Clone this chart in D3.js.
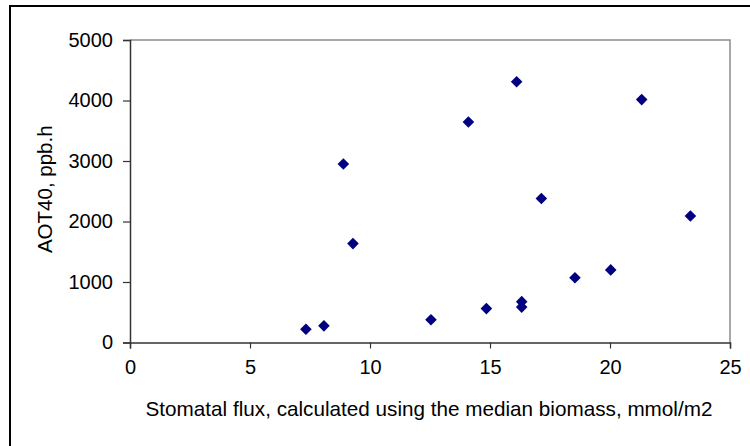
<!DOCTYPE html>
<html>
<head>
<meta charset="utf-8">
<script src="https://cdn.jsdelivr.net/npm/d3@7"></script>
<style>
  body { margin: 0; background: #fff; }
  text { font-family: "Liberation Sans", Arial, sans-serif; }
</style>
</head>
<body>
<div id="chart"></div>
<script>
// stomatal flux (mmol/m2) and AOT40 (ppb.h)
const flux  = [7.33, 8.08, 8.89, 9.29, 12.54, 14.10, 14.85, 16.11, 16.32, 16.32, 17.14, 18.54, 20.03, 21.32, 23.35];
const aot40 = [220, 275, 2950, 1635, 375, 3645, 560, 4310, 675, 585, 2380, 1070, 1200, 4015, 2090];
const xTicks = [0, 5, 10, 15, 20, 25];
const yTicks = [0, 1000, 2000, 3000, 4000, 5000];

const width = 750;
const height = 446;
const margin = { top: 40, right: 20, bottom: 103, left: 130 };
const plotW = 600;
const plotH = 302.5;

const svg = d3.select("#chart")
    .append("svg")
    .attr("width", width)
    .attr("height", height);

// outer frame, runs off the right and bottom edges
svg.append("rect")
    .attr("x", 10)
    .attr("y", 6)
    .attr("width", 760)
    .attr("height", 460)
    .attr("fill", "#fff")
    .attr("stroke", "#000")
    .attr("stroke-width", 2);

const g = svg.append("g")
    .attr("transform", `translate(${margin.left},${margin.top})`);

const x = d3.scaleLinear().domain([0, 25]).range([0, plotW]);
const y = d3.scaleLinear().domain([0, 5000]).range([plotH, 0]);

// grey border on top and right of the plot area
g.append("path")
    .attr("d", `M0,0H${x(25)}V${y(0)}`)
    .attr("fill", "none")
    .attr("stroke", "#8c8c8c")
    .attr("stroke-width", 1.5);

const xAxis = g.append("g")
    .attr("transform", `translate(0,${plotH})`)
    .call(d3.axisBottom(x).tickValues(xTicks).tickFormat(d3.format("d")).tickSize(6).tickPadding(11));

const yAxis = g.append("g")
    .call(d3.axisLeft(y).tickValues(yTicks).tickFormat(d3.format("d")).tickSize(7).tickPadding(10));

[xAxis, yAxis].forEach(a => {
    a.attr("font-size", 20).attr("font-family", "'Liberation Sans', Arial, sans-serif");
    a.select(".domain").attr("stroke", "#333").attr("stroke-width", 1.5);
    a.selectAll(".tick line").attr("stroke", "#333").attr("stroke-width", 1.2);
    a.selectAll(".tick text").attr("fill", "#000");
});

// diamond markers
const diamond = s => `M0,${-s}L${s},0L0,${s}L${-s},0Z`;
g.selectAll(".pt")
    .data(flux.map((f, i) => [f, aot40[i]]))
  .enter().append("path")
    .attr("class", "pt")
    .attr("transform", d => `translate(${x(d[0])},${y(d[1])})`)
    .attr("d", diamond(5.8))
    .attr("fill", "#000080");

// axis titles
svg.append("text")
    .attr("x", 429)
    .attr("y", 416)
    .attr("text-anchor", "middle")
    .style("font-size", "20.7px")
    .text("Stomatal flux, calculated using the median biomass, mmol/m2");

svg.append("text")
    .attr("transform", `translate(52,${margin.top + plotH / 2 - 2}) rotate(-90)`)
    .attr("text-anchor", "middle")
    .style("font-size", "20.5px")
    .text("AOT40, ppb.h");
</script>
</body>
</html>
